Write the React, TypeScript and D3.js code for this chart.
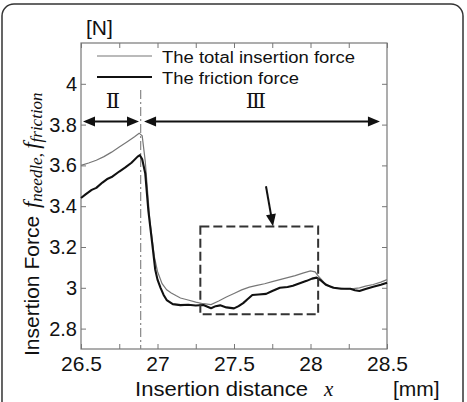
import { useEffect, useRef } from 'react'
import * as d3 from 'd3'

// insertion distance [mm]
const totalX = [26.5, 26.55, 26.6, 26.65, 26.7, 26.75, 26.8, 26.85, 26.88, 26.9, 26.92, 26.95, 26.98, 27.0, 27.03, 27.06, 27.09, 27.12, 27.15, 27.2, 27.25, 27.3, 27.35, 27.4, 27.45, 27.5, 27.55, 27.6, 27.65, 27.7, 27.75, 27.8, 27.85, 27.9, 27.95, 28.0, 28.03, 28.05, 28.09, 28.13, 28.18, 28.24, 28.28, 28.32, 28.36, 28.41, 28.46, 28.5]
// total insertion force [N]
const totalY = [3.6, 3.612, 3.625, 3.643, 3.665, 3.69, 3.715, 3.74, 3.758, 3.745, 3.62, 3.33, 3.15, 3.08, 3.02, 2.99, 2.975, 2.962, 2.95, 2.94, 2.93, 2.922, 2.918, 2.935, 2.955, 2.972, 2.99, 3.003, 3.012, 3.02, 3.03, 3.04, 3.05, 3.06, 3.072, 3.083, 3.078, 3.058, 3.025, 3.005, 2.998, 2.995, 2.996, 3.0, 3.008, 3.016, 3.028, 3.04]

const frictionX = [26.5, 26.53, 26.57, 26.6, 26.64, 26.675, 26.7, 26.75, 26.79, 26.83, 26.87, 26.885, 26.9, 26.92, 26.94, 26.965, 26.985, 27.0, 27.02, 27.04, 27.06, 27.1, 27.15, 27.2, 27.25, 27.3, 27.35, 27.38, 27.41, 27.45, 27.5, 27.53, 27.56, 27.59, 27.62, 27.66, 27.71, 27.75, 27.8, 27.85, 27.885, 27.93, 27.975, 28.01, 28.04, 28.07, 28.1, 28.15, 28.2, 28.26, 28.29, 28.32, 28.36, 28.41, 28.46, 28.5]
// friction force [N]
const frictionY = [3.44, 3.458, 3.48, 3.49, 3.516, 3.535, 3.543, 3.57, 3.59, 3.613, 3.643, 3.65, 3.63, 3.56, 3.38, 3.22, 3.09, 3.04, 3.0, 2.965, 2.94, 2.92, 2.915, 2.917, 2.913, 2.916, 2.9, 2.91, 2.914, 2.904, 2.899, 2.91, 2.925, 2.945, 2.965, 2.967, 2.97, 2.984, 3.0, 3.004, 3.01, 3.022, 3.034, 3.045, 3.05, 3.035, 3.015, 3.0, 2.995, 2.995, 2.988, 2.984, 2.994, 3.005, 3.015, 3.025]

const xTicks = d3.range(26.5, 28.51, 0.25)
const yTicks = [2.8, 3.0, 3.2, 3.4, 3.6, 3.8, 4.0]
const legendLabels = ['The total insertion force', 'The friction force']
const stageLabels = ['Ⅱ', 'Ⅲ']
const boundaryX = 26.89
const zoomBox = { x0: 27.28, x1: 28.05, y0: 2.87, y1: 3.3 }

function App() {
  const ref = useRef<SVGSVGElement>(null)

  useEffect(() => {
    if (!ref.current) return
    const svg = d3.select(ref.current)
    svg.selectAll('*').remove()

    const left = 81, right = 387, top = 43, bottom = 349
    const x = d3.scaleLinear().domain([26.5, 28.5]).range([left, right])
    const y = d3.scaleLinear().domain([2.7, 4.2]).range([bottom, top])

    // outer rounded frame
    svg.append('rect')
      .attr('x', 2).attr('y', 4).attr('width', 461).attr('height', 420)
      .attr('rx', 12).attr('fill', 'none')
      .attr('stroke', '#333').attr('stroke-width', 1.5)

    // axes
    const fmt = (d: number) => (Math.abs(d * 2 - Math.round(d * 2)) < 1e-6 ? d3.format('~g')(d) : '')
    const gb = svg.append('g').attr('transform', `translate(0,${bottom})`)
      .call(d3.axisBottom(x).tickValues(xTicks).tickSizeInner(-5).tickSizeOuter(0).tickPadding(7).tickFormat(fmt as any))
    svg.append('g').attr('transform', `translate(0,${top})`)
      .call(d3.axisTop(x).tickValues(xTicks).tickSizeInner(-5).tickSizeOuter(0).tickFormat(() => ''))
    const gl = svg.append('g').attr('transform', `translate(${left},0)`)
      .call(d3.axisLeft(y).tickValues(yTicks).tickSizeInner(-5).tickSizeOuter(0).tickPadding(4).tickFormat(d3.format('~g') as any))
    svg.append('g').attr('transform', `translate(${right},0)`)
      .call(d3.axisRight(y).tickValues(yTicks).tickSizeInner(-5).tickSizeOuter(0).tickFormat(() => ''))
    svg.selectAll('.domain').remove()
    svg.selectAll('.tick line').attr('stroke', '#777')
    gb.selectAll('text').style('font-size', '21px').attr('fill', '#111')
    gl.selectAll('text').style('font-size', '20px').attr('fill', '#111')

    svg.append('rect')
      .attr('x', left).attr('y', top).attr('width', right - left).attr('height', bottom - top)
      .attr('fill', 'none').attr('stroke', '#777').attr('stroke-width', 1.2)

    // boundary between stage II and III
    svg.append('line')
      .attr('x1', x(boundaryX)).attr('x2', x(boundaryX))
      .attr('y1', 90).attr('y2', bottom)
      .attr('stroke', '#888').attr('stroke-width', 1.2)
      .attr('stroke-dasharray', '9,3,2,3')

    const line = d3.line<[number, number]>().x(d => x(d[0])).y(d => y(d[1]))
    const total = totalX.map((v, i) => [v, totalY[i]] as [number, number])
    const friction = frictionX.map((v, i) => [v, frictionY[i]] as [number, number])

    svg.append('path').datum(total)
      .attr('fill', 'none').attr('stroke', '#777').attr('stroke-width', 1.2)
      .attr('d', line)
    svg.append('path').datum(friction)
      .attr('fill', 'none').attr('stroke', '#111').attr('stroke-width', 2.1)
      .attr('stroke-linejoin', 'round')
      .attr('d', line)

    // dashed zoom box
    svg.append('rect')
      .attr('x', x(zoomBox.x0)).attr('y', y(zoomBox.y1))
      .attr('width', x(zoomBox.x1) - x(zoomBox.x0)).attr('height', y(zoomBox.y0) - y(zoomBox.y1))
      .attr('fill', 'none').attr('stroke', '#333').attr('stroke-width', 2)
      .attr('stroke-dasharray', '9,4')

    // arrows
    const head = (tx: number, ty: number, ang: number, len = 12, w = 5) => {
      const c = Math.cos(ang), s = Math.sin(ang)
      const bx = tx - c * len, by = ty - s * len
      return `M${tx},${ty}L${bx - s * w},${by + c * w}L${bx + s * w},${by - c * w}Z`
    }
    const arrowY = y(3.815)
    const spans = [[26.513, 26.879], [26.912, 28.454]]
    spans.forEach(([a, b]) => {
      svg.append('line').attr('x1', x(a) + 6).attr('x2', x(b) - 6)
        .attr('y1', arrowY).attr('y2', arrowY).attr('stroke', '#111').attr('stroke-width', 2)
      svg.append('path').attr('d', head(x(a), arrowY, Math.PI)).attr('fill', '#111')
      svg.append('path').attr('d', head(x(b), arrowY, 0)).attr('fill', '#111')
    })
    const stageX = [113, 256]
    stageLabels.forEach((s, i) => {
      svg.append('text').attr('x', stageX[i]).attr('y', 108)
        .attr('text-anchor', 'middle').style('font-family', "'DejaVu Serif', serif")
        .style('font-size', '21px').attr('fill', '#111').text(s)
    })

    // pointer to the zoom box
    const p0 = [x(27.709), y(3.498)], p1 = [x(27.755), y(3.302)]
    const ang = Math.atan2(p1[1] - p0[1], p1[0] - p0[0])
    svg.append('line').attr('x1', p0[0]).attr('y1', p0[1])
      .attr('x2', p1[0] - Math.cos(ang) * 8).attr('y2', p1[1] - Math.sin(ang) * 8)
      .attr('stroke', '#111').attr('stroke-width', 2)
    svg.append('path').attr('d', head(p1[0], p1[1], ang, 12, 5)).attr('fill', '#111')

    // legend
    const legendStyles = [{ color: '#777', w: 1.2, len: 193 }, { color: '#111', w: 2, len: 137 }]
    legendLabels.forEach((label, i) => {
      const ly = 56 + i * 21
      svg.append('line').attr('x1', 97).attr('x2', 152).attr('y1', ly).attr('y2', ly)
        .attr('stroke', legendStyles[i].color).attr('stroke-width', legendStyles[i].w)
      svg.append('text').attr('x', 162).attr('y', ly + 7)
        .attr('textLength', legendStyles[i].len).attr('lengthAdjust', 'spacingAndGlyphs')
        .style('font-size', '16px').attr('fill', '#111').text(label)
    })

    // units and axis titles
    svg.append('text').attr('x', 86).attr('y', 35).style('font-size', '21px').attr('fill', '#111').text('[N]')
    svg.append('text').attr('x', 393).attr('y', 396).style('font-size', '21px').attr('fill', '#111').text('[mm]')
    const xt = svg.append('text').attr('x', 135).attr('y', 396).style('font-size', '21px').attr('fill', '#111')
    xt.append('tspan').attr('textLength', 173).attr('lengthAdjust', 'spacingAndGlyphs').text('Insertion distance')
    xt.append('tspan').attr('x', 324)
      .style('font-family', "'Liberation Serif', serif").style('font-style', 'italic').text('x')

    const yt = svg.append('text').attr('transform', 'translate(39,356) rotate(-90)')
      .style('font-size', '21px').attr('fill', '#111')
    yt.append('tspan').text('Insertion Force ')
    const serif = "'Liberation Serif', serif"
    yt.append('tspan').style('font-family', serif).style('font-style', 'italic').style('font-size', '23px').attr('dx', 2).text('f')
    yt.append('tspan').style('font-family', serif).style('font-style', 'italic').style('font-size', '17px').attr('dy', 3).text('needle')
    yt.append('tspan').style('font-family', serif).style('font-size', '17px').text(', ')
    yt.append('tspan').style('font-family', serif).style('font-style', 'italic').style('font-size', '23px').attr('dy', -3).text('f')
    yt.append('tspan').style('font-family', serif).style('font-style', 'italic').style('font-size', '17px').attr('dy', 3).text('friction')
  }, [])

  return (
    <svg ref={ref} width={467} height={402}
      style={{ position: 'absolute', left: 0, top: 0, background: '#fff', fontFamily: "'Liberation Sans', Arial, sans-serif" }} />
  )
}

export default App
